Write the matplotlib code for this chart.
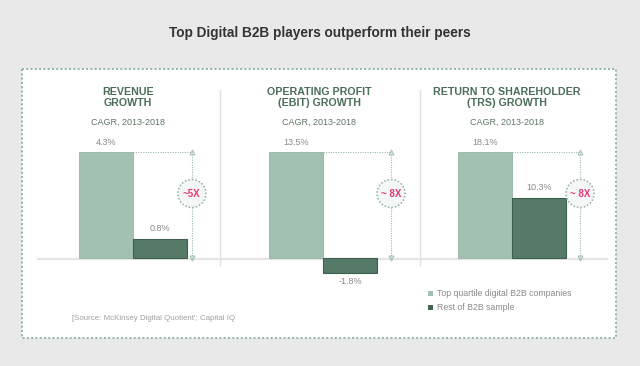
import matplotlib
matplotlib.use('Agg')
import matplotlib.pyplot as plt
from matplotlib.patches import Rectangle, Circle

plt.rcParams['font.family'] = ['Liberation Sans', 'DejaVu Sans']

title = 'Top Digital B2B players outperform their peers'
panelTitles = ['REVENUE\nGROWTH', 'OPERATING PROFIT\n(EBIT) GROWTH', 'RETURN TO SHAREHOLDER\n(TRS) GROWTH']
subTitle = 'CAGR, 2013-2018'
topVals  = [4.3, 13.5, 18.1]
restVals = [0.8, -1.8, 10.3]
multiples = ['~5X', '~ 8X', '~ 8X']
seriesNames = ['Top quartile digital B2B companies', 'Rest of B2B sample']
source = "[Source: McKinsey Digital Quotient'; Capital IQ"

light  = '#a3c1b1'
dark   = '#557b68'
green  = '#4b6e58'
pink   = '#e8367a'
grey   = '#8a8a8a'

W, H = 640, 366
fig = plt.figure(figsize=(6.4, 3.66), dpi=100)
fig.patch.set_facecolor('#e9e9e9')

def px_axes(left, top, right, bottom, z):
    a = fig.add_axes([left / W, 1 - bottom / H, (right - left) / W, (bottom - top) / H])
    a.set_zorder(z)
    a.patch.set_alpha(0)
    a.axis('off')
    return a

# background / pixel axes
bg = px_axes(0, 0, W, H, 0)
bg.set_xlim(0, W); bg.set_ylim(H, 0)
bg.add_patch(Rectangle((22, 69), 594, 269, facecolor='white', edgecolor='#8fb79f',
                       lw=1.4, ls=(0, (1, 1.2))))
bg.text(320, 33, title, ha='center', va='center', fontsize=9.8, fontweight='bold', color='#333333')
for sx in [220, 420]:
    bg.plot([sx, sx], [90, 265], color='#dbe4dd', lw=1)
bg.plot([38, 607], [258.5, 258.5], color='#e4e4e4', lw=1.6)

top = px_axes(0, 0, W, H, 3)
top.set_xlim(0, W); top.set_ylim(H, 0)

barLeft = [79, 269, 458]
bw = 54
arrowOff = [1.59, 1.76, 1.76]
centers = [128, 319, 507]

for i in range(3):
    L = barLeft[i]
    vmax = topVals[i]
    s = 106 / vmax
    A, B = L - 20, L + 2 * bw + 40
    T, Bt = 130, 285
    ax = px_axes(A, T, B, Bt, 2)
    ax.set_xlim((A - L - bw / 2) / bw, (B - L - bw / 2) / bw)
    ax.set_ylim(-(Bt - 258.5) / s, vmax + (152 - T) / s)

    ax.bar([0], [topVals[i]], width=1, color=light, edgecolor='#93b4a3', lw=0.6)
    ax.bar([1], [restVals[i]], width=1, color=dark, edgecolor='#3e5f4e', lw=0.8)

    ax.annotate(f'{topVals[i]}%', (0, topVals[i]), xytext=(0, 4), textcoords='offset points',
                ha='center', va='bottom', fontsize=6.5, color=grey)
    if restVals[i] >= 0:
        ax.annotate(f'{restVals[i]}%', (1, restVals[i]), xytext=(0, 4), textcoords='offset points',
                    ha='center', va='bottom', fontsize=6.5, color=grey)
    else:
        ax.annotate(f'{restVals[i]}%', (1, restVals[i]), xytext=(0, -3), textcoords='offset points',
                    ha='center', va='top', fontsize=6.5, color=grey)

    ox = arrowOff[i]
    ax.plot([0.5, ox], [vmax, vmax], color='#9dbaa9', lw=0.8, ls=(0, (1, 1.2)))
    ax.plot([ox, ox], [0, vmax], color='#9dbaa9', lw=0.8, ls=(0, (1, 1.2)))
    ax.plot([ox], [vmax], marker='^', ms=3.5, mfc='none', mec='#9dbaa9', mew=0.7)
    ax.plot([ox], [0], marker='v', ms=3.5, mfc='none', mec='#9dbaa9', mew=0.7)

    # circle with multiple, in pixel space
    cx = L + bw / 2 + ox * bw
    top.add_patch(Circle((cx, 193.5), 14, facecolor='#f4f7f5', edgecolor='#8fb09c',
                         lw=1.1, ls=(0, (1, 1.3))))
    top.text(cx, 194, multiples[i], ha='center', va='center', fontsize=7,
             color=pink, fontweight='bold')

    bg.text(centers[i], 97.5, panelTitles[i], ha='center', va='center', fontsize=7.7,
            fontweight='bold', color=green, linespacing=1.15)
    bg.text(centers[i], 122, subTitle, ha='center', va='center', fontsize=6.5, color='#5f7566')

# legend
for j, (name, col) in enumerate(zip(seriesNames, [light, '#3f6450'])):
    y = 293.5 + j * 14
    bg.add_patch(Rectangle((428, y - 2.5), 5, 5, facecolor=col, edgecolor='none'))
    bg.text(437, y, name, ha='left', va='center', fontsize=6.3, color=grey)

bg.text(72, 319, source, ha='left', va='center', fontsize=5.7, color='#a0a0a0')

fig.savefig('out.png', dpi=100, facecolor=fig.get_facecolor())
